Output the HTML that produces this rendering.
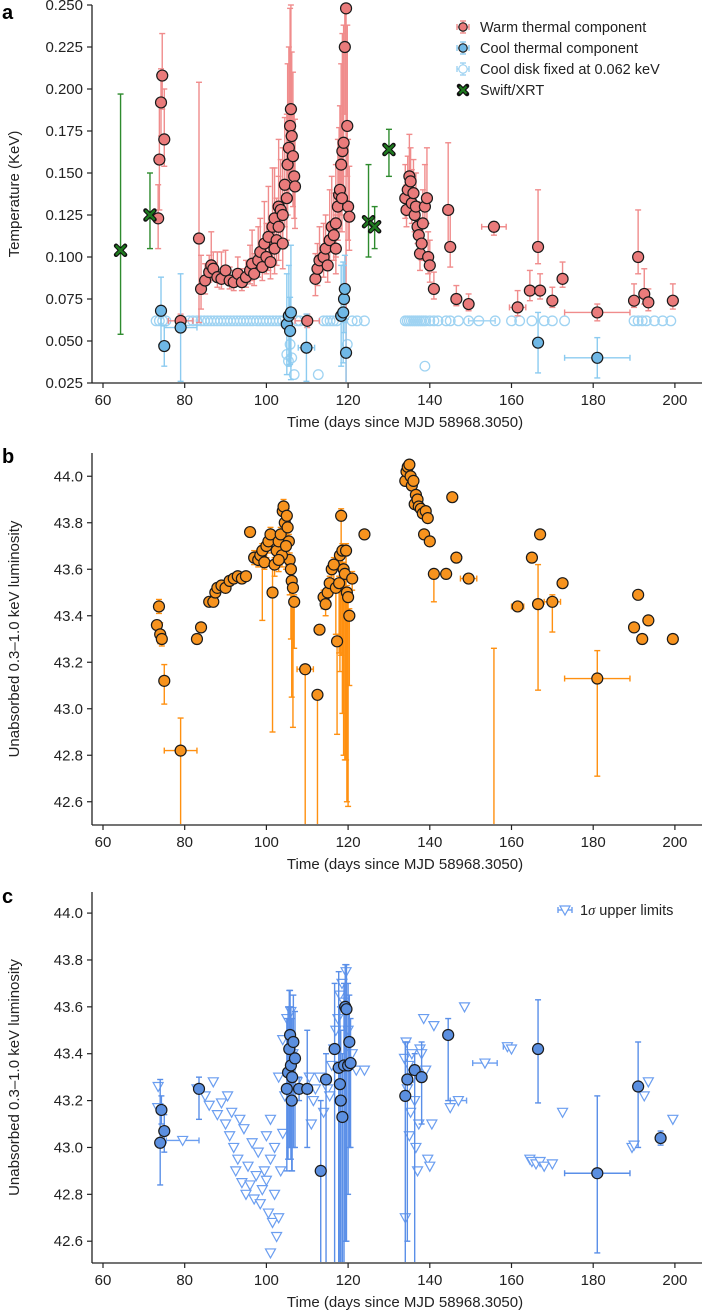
<!DOCTYPE html>
<html><head><meta charset="utf-8">
<style>
html,body{margin:0;padding:0;background:#fff;}
svg{display:block;font-family:"Liberation Sans",Arial,sans-serif;}
</style></head>
<body>
<svg id="fig" width="706" height="1314" viewBox="0 0 706 1314" xmlns="http://www.w3.org/2000/svg"></svg>
<script>
// ---------- shared x axis ----------
const xTicks = [60, 80, 100, 120, 140, 160, 180, 200];
// ---------- panel a data ----------
const warmT = [73.5,73.8,74.2,74.5,75,79,83.5,84,85,86,86.5,87,88,89,90,91,92,93,94,95,96,96.5,97,98,98.5,99,99.5,100,100.5,101,101.5,102,102.5,103,103.5,104,104.5,105,105.2,105.5,105.8,106,106.2,106.5,106.8,107,103,102,104,110,112,112.5,113,114,114.5,115,115.5,116,116.5,117,117.5,117.8,118,118.3,118.6,118.9,119.2,119.5,119.8,120,120.3,118.5,117,134,134.3,134.6,135,135.3,135.6,136,136.3,136.6,137,137.3,137.6,138,138.3,138.8,139.3,139.6,140,141,144.5,145,146.5,149.5,155.7,161.5,164.5,166.5,167,170,172.5,181,190,191,192.5,193.5,199.5];
const warmV = [0.123,0.158,0.192,0.208,0.170,0.062,0.111,0.081,0.086,0.091,0.095,0.093,0.088,0.087,0.092,0.086,0.085,0.090,0.085,0.088,0.092,0.096,0.090,0.098,0.103,0.094,0.108,0.100,0.112,0.097,0.118,0.123,0.110,0.130,0.128,0.125,0.143,0.135,0.155,0.165,0.178,0.188,0.172,0.160,0.148,0.142,0.118,0.105,0.108,0.062,0.087,0.093,0.098,0.100,0.105,0.095,0.110,0.118,0.113,0.120,0.130,0.137,0.140,0.155,0.163,0.168,0.225,0.248,0.178,0.130,0.124,0.135,0.105,0.135,0.128,0.140,0.148,0.145,0.132,0.138,0.125,0.130,0.118,0.113,0.102,0.108,0.120,0.130,0.135,0.100,0.095,0.081,0.128,0.106,0.075,0.072,0.118,0.070,0.080,0.106,0.080,0.074,0.087,0.067,0.074,0.100,0.078,0.073,0.074];
const warmErrLo = [0.018,0.03,0.02,0.02,0.016,0.004,0.05,0.012,0.008,0.006,0.008,0.007,0.006,0.006,0.007,0.005,0.005,0.006,0.005,0.006,0.008,0.01,0.007,0.01,0.012,0.008,0.015,0.01,0.02,0.01,0.02,0.02,0.015,0.02,0.02,0.02,0.025,0.025,0.03,0.03,0.035,0.04,0.03,0.03,0.025,0.025,0.02,0.015,0.015,0.004,0.01,0.01,0.01,0.012,0.012,0.01,0.015,0.015,0.015,0.02,0.02,0.02,0.025,0.03,0.03,0.03,0.04,0.23,0.03,0.02,0.02,0.02,0.015,0.012,0.01,0.012,0.015,0.012,0.012,0.012,0.01,0.012,0.01,0.01,0.01,0.01,0.01,0.012,0.015,0.01,0.01,0.006,0.02,0.012,0.004,0.004,0.005,0.005,0.006,0.01,0.005,0.004,0.005,0.005,0.004,0.01,0.006,0.005,0.005];
const warmErrHi = [0.02,0.035,0.02,0.025,0.03,0.004,0.093,0.02,0.01,0.01,0.02,0.01,0.015,0.016,0.012,0.008,0.007,0.01,0.008,0.01,0.015,0.02,0.012,0.02,0.02,0.015,0.025,0.02,0.03,0.02,0.035,0.03,0.025,0.04,0.03,0.04,0.04,0.05,0.06,0.06,0.07,0.062,0.05,0.05,0.04,0.04,0.03,0.02,0.025,0.004,0.015,0.015,0.02,0.02,0.02,0.015,0.03,0.03,0.025,0.035,0.04,0.04,0.05,0.06,0.07,0.07,0.025,0.002,0.06,0.04,0.03,0.04,0.02,0.02,0.015,0.02,0.025,0.02,0.02,0.02,0.015,0.02,0.015,0.015,0.015,0.015,0.02,0.025,0.03,0.015,0.015,0.01,0.04,0.02,0.008,0.006,0.003,0.01,0.012,0.034,0.01,0.008,0.01,0.005,0.01,0.028,0.015,0.008,0.01];
const warmXerr = {79:3, 110:3, 155.7:3, 161.5:2, 181:8, 172.5:1};
const coolT = [74.2,75,79,105,105.5,106,105.8,109.8,118.3,118.8,119,119.2,119.5,166.5,181];
const coolV = [0.068,0.047,0.058,0.060,0.065,0.067,0.056,0.046,0.065,0.067,0.075,0.081,0.043,0.049,0.040];
const coolErr = [0.02,0.012,0.032,0.03,0.03,0.04,0.02,0.02,0.03,0.03,0.02,0.02,0.02,0.018,0.012];
const coolXerr = [0,0,4,0,0,0,0,2,0,0,0,0,0,0,8];
const diskT = [73,73.8,74.6,75.4,79,81,82,83,84,84.8,85.6,86.4,87.2,88,88.8,89.6,90.4,91.2,92,92.8,93.6,94.4,95.2,96,96.8,97.6,98.4,99.2,100,100.8,101.6,102.4,103.2,104,105,105.4,105.8,106.2,106.8,107.5,108.2,112.7,114,114.8,115.6,116.4,117.2,119.8,121,122.2,124,134,134.5,135,135.5,136,136.5,137,137.5,138,138.5,138.8,139,140,141,142,144,145,147,149.5,152,156,160,162,165,168,170,173,190,191,192,193,195,197,199];
const diskV = [0.062,0.062,0.062,0.062,0.062,0.062,0.062,0.062,0.062,0.062,0.062,0.062,0.062,0.062,0.062,0.062,0.062,0.062,0.062,0.062,0.062,0.062,0.062,0.062,0.062,0.062,0.062,0.062,0.062,0.062,0.062,0.062,0.062,0.062,0.042,0.038,0.048,0.040,0.030,0.062,0.062,0.030,0.062,0.062,0.062,0.062,0.062,0.048,0.062,0.062,0.062,0.062,0.062,0.062,0.062,0.062,0.062,0.062,0.062,0.062,0.062,0.035,0.062,0.062,0.062,0.062,0.062,0.062,0.062,0.062,0.062,0.062,0.062,0.062,0.062,0.062,0.062,0.062,0.062,0.062,0.062,0.062,0.062,0.062,0.062];
const swiftT = [64.3,71.5,125,126.5,130];
const swiftV = [0.104,0.125,0.121,0.118,0.164];
const swiftLo = [0.054,0.105,0.100,0.105,0.148];
const swiftHi = [0.197,0.150,0.155,0.130,0.176];
const aYTicks = [0.025,0.050,0.075,0.100,0.125,0.150,0.175,0.200,0.225,0.250];
// ---------- panel b data ----------
const bT = [73.2,73.7,74,74.4,75,79,83,84,86,87,87.5,88,89,90,91,92,93,94,95,96,97,98,98.5,99,99.5,100,100.5,101,101.5,102,102.5,103,103.5,104,104.2,104.5,105,105.2,105.5,105.7,106,106.2,106.5,106.8,103.8,103,104.8,109.5,112.5,113,114,114.5,115,115.5,116,116.5,117,117.3,117.8,118,118.3,118.6,118.9,119.2,119.5,119.7,120,120.3,121,124,134,134.3,134.6,135,135.3,135.6,136,136.3,136.6,137,137.3,137.8,138.3,138.6,139,139.5,140,141,144,145.5,146.5,149.5,161.5,165,166.5,167,170,172.5,181,190,191,192,193.5,199.5];
const bV = [43.36,43.44,43.32,43.30,43.12,42.82,43.30,43.35,43.46,43.46,43.50,43.52,43.53,43.52,43.55,43.56,43.57,43.56,43.57,43.76,43.65,43.64,43.66,43.68,43.63,43.70,43.72,43.75,43.50,43.62,43.68,43.72,43.75,43.85,43.87,43.80,43.83,43.78,43.72,43.64,43.60,43.55,43.52,43.46,43.66,43.64,43.70,43.17,43.06,43.34,43.48,43.45,43.50,43.54,43.60,43.62,43.52,43.29,43.54,43.66,43.83,43.68,43.60,43.58,43.68,43.50,43.48,43.40,43.56,43.75,43.98,44.02,44.04,44.05,44.00,43.96,43.98,43.88,43.92,43.90,43.87,43.86,43.84,43.75,43.85,43.82,43.72,43.58,43.58,43.91,43.65,43.56,43.44,43.65,43.45,43.75,43.46,43.54,43.13,43.35,43.49,43.30,43.38,43.30];
const bErrLo = [0.02,0.03,0.04,0.03,0.1,0.4,0.01,0.01,0.02,0.02,0.02,0.02,0.01,0.01,0.01,0.01,0.01,0.01,0.01,0.02,0.03,0.03,0.03,0.3,0.03,0.05,0.05,0.05,0.6,0.05,0.05,0.05,0.05,0.04,0.04,0.05,0.05,0.06,0.1,0.15,0.3,0.5,0.6,0.2,0.05,0.05,0.1,0.8,0.6,0.02,0.05,0.05,0.05,0.05,0.1,0.1,0.2,0.4,0.3,0.5,0.6,0.7,0.8,0.8,0.9,0.9,0.9,0.3,0.05,0.02,0.02,0.02,0.02,0.02,0.02,0.02,0.02,0.02,0.02,0.02,0.02,0.02,0.02,0.02,0.02,0.02,0.02,0.12,0.02,0.01,0.02,0.02,0.02,0.01,0.37,0.01,0.13,0.01,0.42,0.01,0.02,0.02,0.01,0.02];
const bErrHi = [0.02,0.03,0.05,0.03,0.07,0.14,0.01,0.01,0.02,0.02,0.02,0.02,0.01,0.01,0.01,0.01,0.01,0.01,0.01,0.02,0.03,0.03,0.03,0.03,0.03,0.03,0.03,0.03,0.12,0.03,0.03,0.03,0.03,0.03,0.03,0.03,0.03,0.03,0.03,0.03,0.03,0.03,0.03,0.03,0.03,0.03,0.03,0.01,0.01,0.02,0.03,0.03,0.03,0.03,0.03,0.03,0.03,0.03,0.03,0.03,0.03,0.03,0.03,0.03,0.03,0.03,0.03,0.03,0.03,0.02,0.02,0.02,0.02,0.02,0.02,0.02,0.02,0.02,0.02,0.02,0.02,0.02,0.02,0.02,0.02,0.02,0.02,0.02,0.02,0.01,0.02,0.02,0.02,0.01,0.17,0.01,0.03,0.01,0.12,0.01,0.02,0.02,0.01,0.02];
const bXerr = {79:4, 109.5:2, 124:1, 149.5:2, 161.5:1.5, 170:2, 181:8};
const bHidT = [155.7];
const bHidHi = [43.26];
const bYTicks = [42.6,42.8,43.0,43.2,43.4,43.6,43.8,44.0];
// ---------- panel c data ----------
const cT = [74,74.3,75,83.5,105,105.3,105.6,105.8,106,106.3,106.6,107,106.2,108,110,113.3,114.6,116.7,117.7,118,118.2,118.6,119,119.3,119.6,120,120.3,120.6,134,134.5,136.3,138,144.5,166.5,181,191,196.5];
const cV = [43.02,43.16,43.07,43.25,43.25,43.32,43.42,43.48,43.35,43.30,43.45,43.38,43.20,43.25,43.25,42.90,43.29,43.42,43.34,43.27,43.20,43.13,43.35,43.60,43.59,43.35,43.45,43.36,43.22,43.29,43.33,43.30,43.48,43.42,42.89,43.26,43.04];
const cLo = [42.84,43.10,42.98,43.12,42.90,42.95,43.0,43.0,42.95,42.90,43.0,43.0,42.9,43.2,43.0,42.5,42.5,42.5,42.5,42.5,42.5,42.5,42.5,42.6,42.6,42.8,43.0,43.0,42.5,42.6,42.5,43.1,43.2,43.19,42.55,43.0,43.01];
const cHi = [43.29,43.22,43.14,43.30,43.55,43.60,43.67,43.67,43.60,43.55,43.65,43.58,43.40,43.30,43.50,43.20,43.40,43.70,43.75,43.60,43.50,43.40,43.70,43.78,43.78,43.70,43.65,43.55,43.45,43.45,43.40,43.45,43.55,43.63,43.22,43.45,43.07];
const cXerr = {181:8, 196.5:1};
const ulT = [73.5,73.4,79.5,83,85,86,87,88,89,90,90.5,91,91.5,92,92.5,93,93.5,94,94.5,95,95.5,96,96.5,97,97.5,98,98.5,99,99.5,100,100.5,101,101.5,102,102.5,101,103,100,101,102,103.5,104,104.5,103,104,105,106,106.5,107.5,110.5,111,111.5,112,113,114,115,115.5,116,116.5,117,117.5,118,118.5,119,119.5,120,121,122,124,133.8,134,134.2,134.5,134.8,135,135.3,135.6,136,136.3,136.6,137,137.3,137.6,138,138.5,139,139.5,140,140.5,141,145,147,148.5,153.5,159,160,164.5,165,166,167,168,170,172.5,189.5,190,192.5,193.5,199.5];
const ulV = [43.26,43.17,43.03,43.25,43.22,43.18,43.28,43.14,43.19,43.10,43.22,43.05,43.15,43.00,42.90,42.95,43.12,42.85,43.08,42.80,42.92,42.84,43.02,42.78,42.88,42.98,42.76,42.82,42.90,42.86,42.72,42.95,42.68,42.80,42.62,42.55,42.70,43.05,43.12,43.00,42.90,43.06,43.22,43.30,43.46,43.55,43.58,43.40,43.28,43.30,43.10,43.20,43.25,43.30,43.15,43.25,43.22,43.35,43.42,43.50,43.55,43.65,43.70,43.62,43.75,43.50,43.40,43.33,43.33,43.38,42.70,43.45,43.25,43.35,43.05,43.15,43.40,43.30,43.20,43.00,42.90,43.10,43.42,43.40,43.55,43.33,42.95,42.92,43.10,43.52,43.17,43.20,43.60,43.36,43.43,43.42,42.95,42.94,42.93,42.94,42.92,42.93,43.15,43.00,43.01,43.22,43.28,43.12];
const ulXerr = {79.5:4, 147:2, 153.5:3, 159:1};

// ---------- drawing ----------
const svg = document.getElementById('fig');
const NS = 'http://www.w3.org/2000/svg';
function mk(tag, attrs, parent){const e=document.createElementNS(NS,tag);for(const k in attrs)e.setAttribute(k,attrs[k]);(parent||svg).appendChild(e);return e;}
const X0 = 92, XR = 702;
function xs(t){return 103 + (t-60)*4.085;}

function makePanel(name, yTop, yBot, yMin, yMax, ticks, fmt, yTitle, letter, letterY){
  const g = mk('g',{});
  
  
  const ys = v => yBot - (v-yMin)/(yMax-yMin)*(yBot-yTop);
  const ax = mk('g',{},g);
  
  
  mk('line',{x1:X0,y1:yTop,x2:X0,y2:yBot,stroke:'#222','stroke-width':1.3},ax);
  mk('line',{x1:X0,y1:yBot,x2:XR,y2:yBot,stroke:'#222','stroke-width':1.3},ax);
  ticks.forEach(v=>{
    const y=ys(v);
    mk('line',{x1:X0-5,y1:y,x2:X0,y2:y,stroke:'#222','stroke-width':1.2},ax);
    const tx=mk('text',{x:X0-9,y:y+5,'text-anchor':'end','font-size':15,fill:'#222'},ax);
    tx.textContent=fmt(v);
    
    
  });
  xTicks.forEach(t=>{
    const x=xs(t);
    mk('line',{x1:x,y1:yBot,x2:x,y2:yBot+5,stroke:'#222','stroke-width':1.2},ax);
    const tx=mk('text',{x:x,y:yBot+22,'text-anchor':'middle','font-size':15,fill:'#222'},ax);
    tx.textContent=t;
    
    
  });
  const xt=mk('text',{x:(X0+XR)/2+8,y:yBot+44,'text-anchor':'middle','font-size':15,fill:'#222'},ax);
  xt.textContent='Time (days since MJD 58968.3050)';
  
  
  const cy=(yTop+yBot)/2;
  const yt=mk('text',{x:0,y:0,'text-anchor':'middle','font-size':15,fill:'#222',transform:`translate(19,${cy}) rotate(-90)`},ax);
  yt.textContent=yTitle;
  
  
  const lt=mk('text',{x:2,y:letterY,'font-size':20,'font-weight':'bold',fill:'#000'},ax);
  lt.textContent=letter;
  
  
  const clipId='clip'+letter;
  const cp=mk('clipPath',{id:clipId},g);
  mk('rect',{x:X0+1,y:0,width:XR-X0,height:yBot-1},cp);
  const plot=mk('g',{'clip-path':`url(#${clipId})`},g);
  return {g:plot, ys};
}
function errbar(g, x1,y1,x2,y2,col,cap,horiz){
  mk('line',{x1,y1,x2,y2,stroke:col,'stroke-width':1.4},g);
  if(cap){
    if(horiz){mk('line',{x1:x1,y1:y1-3,x2:x1,y2:y1+3,stroke:col,'stroke-width':1.4},g);mk('line',{x1:x2,y1:y2-3,x2:x2,y2:y2+3,stroke:col,'stroke-width':1.4},g);}
    else{mk('line',{x1:x1-3,y1:y1,x2:x1+3,y2:y1,stroke:col,'stroke-width':1.4},g);mk('line',{x1:x2-3,y1:y2,x2:x2+3,y2:y2,stroke:col,'stroke-width':1.4},g);}
  }
}
function dot(g,x,y,fill,nm){
  const c=mk('circle',{cx:x,cy:y,r:5.5,fill:fill,stroke:'#1a1a1a','stroke-width':1.2},g);
  
  
}

// Panel a
const A = makePanel('panel-a-temperature', 5, 383, 0.025, 0.250, aYTicks, v=>v.toFixed(3), 'Temperature (KeV)', 'a', 19);
{
  const ys=A.ys, g=A.g;
  const diskCol='#9fd3f2';
  diskT.forEach((t,i)=>{
    const c=mk('circle',{cx:xs(t),cy:ys(diskV[i]),r:4.8,fill:'none',stroke:diskCol,'stroke-width':1.3},g);
    
    
  });
  errbar(g, xs(149.5), ys(0.062), xs(156), ys(0.062), diskCol, true, true);
  const wCol='#f08c8c';
  warmT.forEach((t,i)=>{
    const x=xs(t);
    errbar(g,x,ys(warmV[i]-warmErrLo[i]),x,ys(warmV[i]+warmErrHi[i]),wCol,true,false);
    if(warmXerr[t]) errbar(g,xs(t-warmXerr[t]),ys(warmV[i]),xs(t+warmXerr[t]),ys(warmV[i]),wCol,true,true);
  });
  const cCol='#8ccbf0';
  coolT.forEach((t,i)=>{
    const x=xs(t);
    errbar(g,x,ys(coolV[i]-coolErr[i]),x,ys(coolV[i]+coolErr[i]),cCol,true,false);
    if(coolXerr[i]) errbar(g,xs(t-coolXerr[i]),ys(coolV[i]),xs(t+coolXerr[i]),ys(coolV[i]),cCol,true,true);
  });
  const sCol='#2e8b2e';
  swiftT.forEach((t,i)=>errbar(g,xs(t),ys(swiftLo[i]),xs(t),ys(swiftHi[i]),sCol,true,false));
  warmT.forEach((t,i)=>dot(g,xs(t),ys(warmV[i]),'#ea7b7b','warm-thermal-point'));
  coolT.forEach((t,i)=>dot(g,xs(t),ys(coolV[i]),'#6fb8e6','cool-thermal-point'));
  swiftT.forEach((t,i)=>{
    const x=xs(t),y=ys(swiftV[i]);
    const p=mk('path',{d:`M${x-4.5},${y-4.5}L${x+4.5},${y+4.5}M${x+4.5},${y-4.5}L${x-4.5},${y+4.5}`,stroke:'#111','stroke-width':4.5,'stroke-linecap':'round'},g);
    
    
    mk('path',{d:`M${x-4},${y-4}L${x+4},${y+4}M${x+4},${y-4}L${x-4},${y+4}`,stroke:'#1e7a1e','stroke-width':2.4,'stroke-linecap':'round'},g);
  });
  // legend
  const lg=mk('g',{});
  
  
  const items=[['Warm thermal component','#ea7b7b',wCol,'dot'],['Cool thermal component','#6fb8e6',cCol,'dot'],['Cool disk fixed at 0.062 keV','none',diskCol,'ring'],['Swift/XRT','#1e7a1e',sCol,'x']];
  items.forEach((it,k)=>{
    const y=27+k*21, x=463;
    const e=mk('g',{},lg);
    
    
    if(it[3]==='x'){
      mk('path',{d:`M${x-4},${y-4}L${x+4},${y+4}M${x+4},${y-4}L${x-4},${y+4}`,stroke:'#111','stroke-width':4.5,'stroke-linecap':'round'},e);
      mk('path',{d:`M${x-3.5},${y-3.5}L${x+3.5},${y+3.5}M${x+3.5},${y-3.5}L${x-3.5},${y+3.5}`,stroke:'#1e7a1e','stroke-width':2.2},e);
    } else {
      errbar(e,x-6,y,x+6,y,it[2],true,true);
      errbar(e,x,y-6,x,y+6,it[2],true,false);
      mk('circle',{cx:x,cy:y,r:4.2,fill:it[3]==='ring'?'#fff':it[1],stroke:it[3]==='ring'?it[2]:'#222','stroke-width':1.2},e);
    }
    const tx=mk('text',{x:480,y:y+5,'font-size':14.5,fill:'#222'},e);
    tx.textContent=it[0];
  });
}

// Panel b
const B = makePanel('panel-b-luminosity', 453, 825, 42.5, 44.1, bYTicks, v=>v.toFixed(1), 'Unabsorbed 0.3\u20131.0 keV luminosity', 'b', 463);
{
  const ys=B.ys, g=B.g, col='#ff9010';
  bT.forEach((t,i)=>{
    const x=xs(t);
    errbar(g,x,ys(bV[i]-bErrLo[i]),x,ys(bV[i]+bErrHi[i]),col,true,false);
    if(bXerr[t]) errbar(g,xs(t-bXerr[t]),ys(bV[i]),xs(t+bXerr[t]),ys(bV[i]),col,true,true);
  });
  bHidT.forEach((t,i)=>errbar(g,xs(t),ys(42.3),xs(t),ys(bHidHi[i]),col,true,false));
  bT.forEach((t,i)=>dot(g,xs(t),ys(bV[i]),'#f7931e','luminosity-point'));
}

// Panel c
const C = makePanel('panel-c-luminosity', 892, 1263, 42.507, 44.09, bYTicks, v=>v.toFixed(1), 'Unabsorbed 0.3\u20131.0 keV luminosity', 'c', 903);
{
  const ys=C.ys, g=C.g, col='#6b9ef0';
  ulT.forEach((t,i)=>{
    const x=xs(t), y=ys(ulV[i]);
    if(ulXerr[t]) errbar(g,xs(t-ulXerr[t]),y,xs(t+ulXerr[t]),y,col,true,true);
    const p=mk('path',{d:`M${x-5},${y-4}L${x+5},${y-4}L${x},${y+5}Z`,fill:'#fff',stroke:col,'stroke-width':1.2},g);
    
    
  });
  cT.forEach((t,i)=>{
    const x=xs(t);
    errbar(g,x,ys(cLo[i]),x,ys(cHi[i]),'#5a8fe8',true,false);
    if(cXerr[t]) errbar(g,xs(t-cXerr[t]),ys(cV[i]),xs(t+cXerr[t]),ys(cV[i]),'#5a8fe8',true,true);
  });
  cT.forEach((t,i)=>dot(g,xs(t),ys(cV[i]),'#5b8fe0','detection-point'));
  const lg=mk('g',{});
  
  
  const x=565,y=910;
  errbar(lg,x-7,y,x+7,y,col,true,true);
  mk('path',{d:`M${x-5},${y-4}L${x+5},${y-4}L${x},${y+5}Z`,fill:'#fff',stroke:col,'stroke-width':1.2},lg);
  const tx=mk('text',{x:580,y:y+5,'font-size':14.5,fill:'#222'},lg);
  tx.innerHTML='1<tspan font-style="italic" font-family="Liberation Serif">σ</tspan> upper limits';
}
</script>
</body></html>
